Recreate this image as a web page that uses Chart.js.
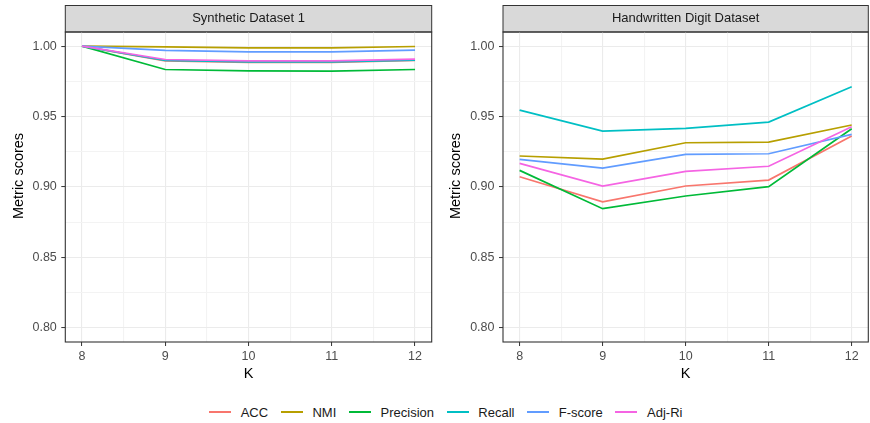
<!DOCTYPE html>
<html><head><meta charset="utf-8">
<script src="https://cdn.jsdelivr.net/npm/chart.js@4.4.1/dist/chart.umd.min.js"></script>
<style>
html,body{margin:0;padding:0;background:#fff;width:870px;height:423px;overflow:hidden;font-family:"Liberation Sans",Arial,sans-serif;}
#c1{position:absolute;left:0;top:0;}
#c2{position:absolute;left:437px;top:0;}
.ytitle{position:absolute;width:200px;height:18px;line-height:18px;text-align:center;font-size:14.5px;color:#000;transform:rotate(-90deg);transform-origin:center center;white-space:nowrap;}
#legend{position:absolute;left:209px;top:402px;height:20px;display:flex;align-items:center;font-size:13px;color:#1a1a1a;white-space:nowrap;}
.it{display:flex;align-items:center;margin-right:12.6px;}
.sw{display:inline-block;width:22px;height:1.7px;margin-right:9.7px;}
</style></head><body>
<canvas id="c1" width="437" height="395"></canvas>
<canvas id="c2" width="433" height="395"></canvas>
<div class="ytitle" id="yt1" style="left:-82.5px;top:167px;"></div>
<div class="ytitle" id="yt2" style="left:354.5px;top:167px;"></div>
<div id="legend"></div>
<script>
// ---- data ----
const kValues = [8, 9, 10, 11, 12];
const seriesNames = ['ACC', 'NMI', 'Precision', 'Recall', 'F-score', 'Adj-Ri'];
const seriesColors = ['#F8766D', '#B79F00', '#00BA38', '#00BFC4', '#619CFF', '#F564E3'];
const panelTitles = ['Synthetic Dataset 1', 'Handwritten Digit Dataset'];
const xAxisTitle = 'K';
const yAxisTitle = 'Metric scores';
const yMajorTicks = [0.80, 0.85, 0.90, 0.95, 1.00];
const yMinorTicks = [0.825, 0.875, 0.925, 0.975];
const xMajorTicks = [8, 9, 10, 11, 12];
const xMinorTicks = [8.5, 9.5, 10.5, 11.5];

const synAcc       = [1.0000, 0.9895, 0.9884, 0.9884, 0.9898];
const synNmi       = [1.0000, 0.9994, 0.9987, 0.9987, 0.9997];
const synPrecision = [1.0000, 0.9834, 0.9824, 0.9823, 0.9834];
const synRecall    = [1.0000, 0.9898, 0.9888, 0.9888, 0.9900];
const synFscore    = [1.0000, 0.9969, 0.9959, 0.9959, 0.9971];
const synAdjRi     = [1.0000, 0.9905, 0.9895, 0.9895, 0.9907];

const hwAcc       = [0.9073, 0.8895, 0.9007, 0.9049, 0.9362];
const hwNmi       = [0.9220, 0.9198, 0.9314, 0.9319, 0.9440];
const hwPrecision = [0.9118, 0.8846, 0.8936, 0.9002, 0.9413];
const hwRecall    = [0.9546, 0.9397, 0.9416, 0.9461, 0.9711];
const hwFscore    = [0.9196, 0.9134, 0.9232, 0.9236, 0.9374];
const hwAdjRi     = [0.9168, 0.9007, 0.9111, 0.9147, 0.9428];

const synSeries = [synAcc, synNmi, synPrecision, synRecall, synFscore, synAdjRi];
const hwSeries  = [hwAcc, hwNmi, hwPrecision, hwRecall, hwFscore, hwAdjRi];

// ---- chart ----
const FONT = "'Liberation Sans', Arial, sans-serif";
const isIn = (arr, v) => arr.some(a => Math.abs(a - v) < 1e-9);

const panelPlugin = {
  id: 'panel',
  beforeDraw(chart) {
    const {ctx, chartArea: a} = chart;
    ctx.save();
    ctx.fillStyle = '#D9D9D9';
    ctx.fillRect(a.left, 5.5, a.right - a.left, a.top - 5.5);
    ctx.strokeStyle = '#333333';
    ctx.lineWidth = 1;
    ctx.strokeRect(a.left, 5.5, a.right - a.left, a.top - 5.5);
    ctx.restore();
  },
  afterDraw(chart) {
    const {ctx, chartArea: a} = chart;
    ctx.save();
    ctx.strokeStyle = '#333333';
    ctx.lineWidth = 1.1;
    ctx.strokeRect(a.left, a.top, a.right - a.left, a.bottom - a.top);
    ctx.restore();
  }
};

function makeChart(id, title, series, yWidth, padRight) {
  return new Chart(document.getElementById(id), {
    type: 'line',
    data: {
      datasets: series.map((vals, i) => ({
        label: seriesNames[i],
        data: kValues.map((k, j) => ({x: k, y: vals[j]})),
        borderColor: seriesColors[i],
        backgroundColor: seriesColors[i],
        borderWidth: 1.7,
        pointRadius: 0,
        tension: 0,
        fill: false,
        order: seriesNames.length - i
      }))
    },
    options: {
      responsive: false,
      animation: false,
      layout: {padding: {left: 0, right: padRight, top: 0, bottom: 0}},
      plugins: {
        legend: {display: false},
        tooltip: {enabled: false},
        title: {
          display: true, text: title, position: 'top', fullSize: false,
          color: '#1A1A1A', font: {family: FONT, size: 13, weight: 'normal'},
          padding: {top: 10.2, bottom: 6.2}
        }
      },
      scales: {
        x: {
          type: 'linear', min: 7.8, max: 12.2,
          afterBuildTicks: s => { s.ticks = [...xMajorTicks, ...xMinorTicks].sort((a,b)=>a-b).map(v => ({value: v})); },
          afterFit: s => { s.height = 53; },
          border: {display: false},
          grid: {
            color: c => isIn(xMajorTicks, c.tick.value) ? '#EBEBEB' : '#F3F3F3',
            lineWidth: 1.1,
            tickColor: c => isIn(xMajorTicks, c.tick.value) ? '#333333' : 'rgba(0,0,0,0)',
            tickLength: 4, tickWidth: 1
          },
          ticks: {
            autoSkip: false, maxRotation: 0, padding: 3, color: '#4D4D4D',
            font: {family: FONT, size: 12.5},
            callback: v => isIn(xMajorTicks, v) ? String(v) : ''
          },
          title: {display: true, text: xAxisTitle, color: '#000', font: {family: FONT, size: 14.5}, padding: {top: 0, bottom: 12.3}}
        },
        y: {
          type: 'linear', min: 0.79, max: 1.01,
          afterBuildTicks: s => { s.ticks = [...yMajorTicks, ...yMinorTicks].sort((a,b)=>a-b).map(v => ({value: v})); },
          afterFit: s => { s.width = yWidth; },
          border: {display: false},
          grid: {
            color: c => isIn(yMajorTicks, c.tick.value) ? '#EBEBEB' : '#F3F3F3',
            lineWidth: 1.1,
            tickColor: c => isIn(yMajorTicks, c.tick.value) ? '#333333' : 'rgba(0,0,0,0)',
            tickLength: 4, tickWidth: 1
          },
          ticks: {
            autoSkip: false, padding: 4.5, color: '#4D4D4D',
            font: {family: FONT, size: 12.5},
            callback: v => isIn(yMajorTicks, v) ? v.toFixed(2) : ''
          },
          title: {display: false}
        }
      }
    },
    plugins: [panelPlugin]
  });
}

makeChart('c1', panelTitles[0], synSeries, 65.3, 5.3);
makeChart('c2', panelTitles[1], hwSeries, 66, 1.7);

document.getElementById('yt1').textContent = yAxisTitle;
document.getElementById('yt2').textContent = yAxisTitle;

// ---- legend ----
const leg = document.getElementById('legend');
seriesNames.forEach((n, i) => {
  const it = document.createElement('span');
  it.className = 'it';
  const sw = document.createElement('span');
  sw.className = 'sw';
  sw.style.background = seriesColors[i];
  const tx = document.createElement('span');
  tx.textContent = n;
  it.appendChild(sw); it.appendChild(tx);
  leg.appendChild(it);
});
</script>
</body></html>
